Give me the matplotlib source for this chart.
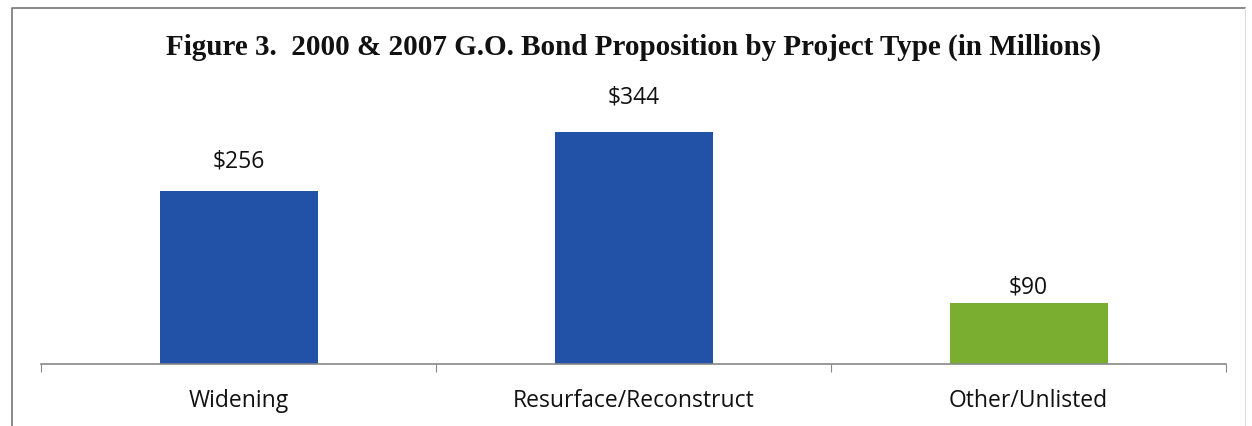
import matplotlib.pyplot as plt
from matplotlib.transforms import offset_copy

categories = ['Widening', 'Resurface/Reconstruct', 'Other/Unlisted']
values = [256, 344, 90]
bar_colors = ['#2152a8', '#2152a8', '#7aae30']
value_labels = ['$256', '$344', '$90']
title = 'Figure 3.  2000 & 2007 G.O. Bond Proposition by Project Type (in Millions)'

# gap (px) between bar top and its label baseline
label_gaps = [24, 28, 10]

W, H = 1252, 426
fig = plt.figure(figsize=(W / 100, H / 100), dpi=100)

# outer frame (open at the bottom)
frame = fig.add_axes([0, 0, 1, 1])
frame.set_xlim(0, W)
frame.set_ylim(H, 0)
frame.axis('off')
frame.plot([12, 12, 1245], [H, 8, 8], color='#777777', lw=1.2)
frame.plot([1245, 1245], [8, H], color='#dddddd', lw=0.8)

frame.text(633, 55, title, ha='center', va='baseline', fontsize=21,
           fontweight='bold', family='Liberation Serif', color='#111111')

# plot area: x from 41 to 1226 px, baseline at 364 px
x0, x1, y0 = 41, 1226, 364
ymax = 400
px_per_unit = 0.675
ytop = y0 - ymax * px_per_unit
ax = fig.add_axes([x0 / W, 1 - y0 / H, (x1 - x0) / W, (y0 - ytop) / H])
ax.set_xlim(-0.5, len(categories) - 0.5)
ax.set_ylim(0, ymax)

bars = ax.bar(range(len(categories)), values, width=0.4, color=bar_colors)
for b, lab, gap in zip(bars, value_labels, label_gaps):
    tr = offset_copy(ax.transData, fig=fig, x=0, y=gap * 72 / 100, units='points')
    ax.text(b.get_x() + b.get_width() / 2, b.get_height(), lab, transform=tr,
            ha='center', va='baseline', fontsize=16.5, family='Open Sans',
            color='#111111')

for s in ['top', 'right', 'left']:
    ax.spines[s].set_visible(False)
ax.spines['bottom'].set_color('#888888')
ax.spines['bottom'].set_linewidth(1.2)
ax.set_yticks([])
ax.set_xticks([i - 0.5 for i in range(len(categories) + 1)])
ax.set_xticklabels([])
ax.set_xticks(range(len(categories)), minor=True)
ax.set_xticklabels(categories, minor=True, fontsize=16.5, family='Open Sans',
                   color='#111111')
ax.tick_params(axis='x', which='major', length=6, color='#888888')
ax.tick_params(axis='x', which='minor', length=0, pad=18)

fig.savefig('out.png', dpi=100)
